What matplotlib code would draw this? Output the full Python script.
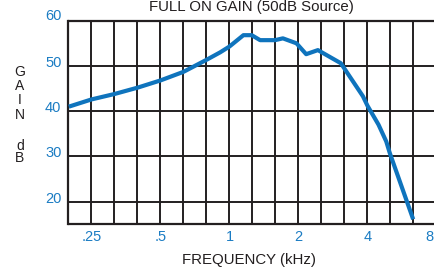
import numpy as np
import matplotlib
matplotlib.use('Agg')
import matplotlib.pyplot as plt
from matplotlib.transforms import ScaledTranslation, blended_transform_factory

plt.rcParams['font.family'] = ['Liberation Sans', 'DejaVu Sans']

# data (frequency in kHz, gain in dB)
freq_khz = [0.199, 0.25, 0.315, 0.397, 0.5, 0.63, 0.79, 0.91, 1.0, 1.15, 1.25,
            1.36, 1.58, 1.71, 1.96, 2.16, 2.43, 3.06, 3.82, 4.0, 4.47, 4.83,
            5.0, 6.33]
gain_db = [41.0, 42.6, 43.8, 45.2, 46.8, 48.7, 51.3, 53.0, 54.3, 56.8, 56.8,
           55.7, 55.7, 56.1, 55.0, 52.6, 53.5, 50.6, 43.3, 41.2, 37.0, 33.3,
           30.8, 16.1]
xticks = [0.25, 0.5, 1, 2, 4, 8]
xticklabels = ['.25', '.5', '1', '2', '4', '8']
yticks = [20, 30, 40, 50, 60]
ylabel_letters = ['G', 'A', 'I', 'N', 'd', 'B']

blue = '#0f74bd'
label_blue = '#1b7cc3'
ink = '#231f20'

W, H = 435, 272
fig = plt.figure(figsize=(W / 100, H / 100), dpi=100)
left, right, top, bottom = 68.5, 436.5, 20.7, 224.3
ax = fig.add_axes([left / W, (H - bottom) / H, (right - left) / W, (bottom - top) / H])

ax.set_xscale('log')
x0 = 0.25 / 2 ** (1 / 3)
ax.set_xlim(x0, 8)
ax.set_ylim(15, 60)

# third-octave vertical grid
for k in range(1, 17):
    ax.axvline(x0 * 2 ** (k / 3), color=ink, lw=1.4, zorder=1)
for v in [20, 30, 40, 50]:
    ax.axhline(v, color=ink, lw=1.4, zorder=1)

ax.plot(freq_khz, gain_db, color=blue, lw=3.0, solid_joinstyle='round',
        solid_capstyle='butt', zorder=3, clip_on=False)

for s in ['left', 'top', 'bottom']:
    ax.spines[s].set_color(ink)
    ax.spines[s].set_linewidth(1.6)
ax.spines['right'].set_visible(False)

ax.set_xticks([])
ax.set_yticks([])
ax.xaxis.set_minor_locator(matplotlib.ticker.NullLocator())

def px(dx, dy):
    return ScaledTranslation(dx / 100, dy / 100, fig.dpi_scale_trans)

# tick labels drawn as text so they can sit like the original
tx = blended_transform_factory(ax.transData, ax.transAxes)
for v, lab in zip(xticks, xticklabels):
    dx = -7.5 if lab == '8' else 0
    ax.text(v, 0, lab, transform=tx + px(dx, -12.5), ha='center', va='center',
            fontsize=10.5, color=label_blue, clip_on=False)
ty = blended_transform_factory(ax.transAxes, ax.transData)
for v in yticks:
    dy = 5 if v == 60 else 3
    ax.text(0, v, str(v), transform=ty + px(-7, dy), ha='right', va='center',
            fontsize=10.5, color=label_blue, clip_on=False)

fig.text(251 / W, 1 - 11 / H, 'FULL ON GAIN (50dB Source)', ha='center',
         va='baseline', fontsize=10.8, color=ink)
fig.text(249 / W, 1 - 260 / H, 'FREQUENCY (kHz)', ha='center', va='center',
         fontsize=10.8, color=ink)
# stacked y label letters
for ch, yp in zip(ylabel_letters, [72, 86.5, 100.5, 115, 146, 158.5]):
    fig.text(20 / W, 1 - yp / H, ch, ha='center', va='center',
             fontsize=10, color=ink)

fig.savefig('out.png', dpi=100)
